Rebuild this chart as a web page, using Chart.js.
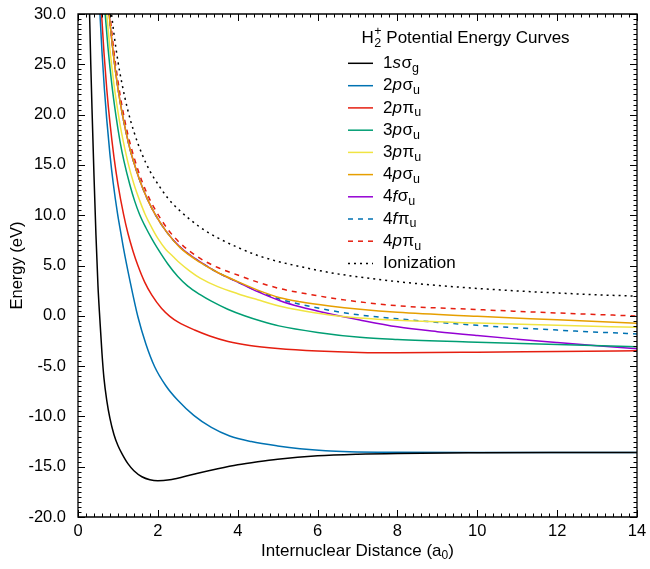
<!DOCTYPE html>
<html>
<head>
<meta charset="utf-8">
<script src="https://cdn.jsdelivr.net/npm/chart.js@4/dist/chart.umd.min.js"></script>
<style>
  body { margin: 0; background: #fff; }
  canvas { display: block; }
</style>
</head>
<body>
<canvas id="chart" width="650" height="569"></canvas>
<script>
// values: R in a0, E in eV
const r1sg = [0.27, 0.29, 0.32, 0.355, 0.40, 0.45, 0.50, 0.55, 0.60, 0.65, 0.72, 0.80, 0.90, 1.0, 1.1, 1.25, 1.4, 1.6, 1.8, 2.0, 2.3, 2.6, 3.0, 3.5, 4.0, 4.5, 5, 6, 7, 8, 10, 12, 14];
const e1sg = [33.5, 30, 25, 20, 14, 8, 3, -0.5, -3.7, -6.2, -8.4, -10.2, -11.8, -12.9, -13.7, -14.7, -15.4, -16.0, -16.3, -16.4, -16.3, -16.05, -15.65, -15.2, -14.8, -14.5, -14.25, -13.92, -13.76, -13.68, -13.62, -13.6, -13.6];

const r2ps = [0.53, 0.55, 0.60, 0.66, 0.72, 0.80, 0.88, 0.99, 1.07, 1.14, 1.3, 1.5, 1.7, 1.92, 2.2, 2.5, 2.9, 3.34, 3.8, 4.34, 5, 5.56, 6.2, 6.8, 8, 10, 14];
const e2ps = [31.7, 30, 26.3, 22.6, 19.5, 16.05, 13.25, 10.15, 8.3, 6.7, 3.5, -0.1, -2.8, -5.06, -6.95, -8.4, -9.9, -11.1, -11.95, -12.5, -12.94, -13.22, -13.42, -13.51, -13.57, -13.6, -13.6];

const r2pp = [0.57, 0.59, 0.65, 0.72, 0.80, 0.90, 1.0, 1.14, 1.25, 1.38, 1.5, 1.67, 1.85, 2.09, 2.3, 2.5, 2.92, 3.3, 3.76, 4.3, 5.0, 6.0, 7.06, 8, 10, 12, 14];
const e2pp = [31.4, 30, 26.2, 22.55, 19.2, 15.8, 13.1, 10.1, 8.2, 6.4, 5.0, 3.35, 2.05, 0.75, -0.05, -0.6, -1.41, -2.0, -2.55, -2.95, -3.25, -3.5, -3.64, -3.67, -3.62, -3.54, -3.47];

const r3ps = [0.66, 0.68, 0.75, 0.85, 0.95, 1.05, 1.15, 1.3, 1.42, 1.54, 1.7, 1.85, 2.0, 2.25, 2.5, 2.75, 3.06, 3.34, 3.75, 4.17, 4.6, 5.03, 6, 7.06, 8, 10, 12, 14];
const e3ps = [31.1, 30, 26.7, 22.9, 19.9, 17.4, 15.4, 13.0, 11.4, 10.1, 8.75, 7.65, 6.65, 5.15, 3.9, 2.95, 2.1, 1.45, 0.65, 0.0, -0.55, -1.0, -1.65, -2.14, -2.35, -2.62, -2.86, -3.07];

const r3pp = [0.70, 0.72, 0.8, 0.9, 1.0, 1.1, 1.25, 1.4, 1.55, 1.68, 1.85, 2.0, 2.2, 2.38, 2.55, 2.8, 3.06, 3.5, 4.0, 4.5, 5.06, 5.56, 6.3, 7.06, 8, 10, 12, 14];
const e3pp = [31.0, 30, 26.5, 23.0, 20.3, 18.0, 15.25, 13.1, 11.4, 10.1, 8.75, 7.7, 6.6, 5.9, 5.25, 4.45, 3.75, 2.9, 2.2, 1.6, 0.95, 0.55, 0.08, -0.22, -0.45, -0.72, -0.95, -1.14];

const r4ps = [0.75, 0.78, 0.85, 0.95, 1.05, 1.15, 1.3, 1.45, 1.6, 1.75, 1.93, 2.2, 2.55, 3.06, 3.5, 4.0, 4.5, 5.06, 5.56, 6.3, 7.06, 8, 10, 12, 14];
const e4ps = [31.3, 30, 27.25, 24.0, 21.4, 19.25, 16.6, 14.6, 12.9, 11.5, 10.1, 8.44, 6.8, 5.3, 4.3, 3.4, 2.55, 1.8, 1.4, 0.98, 0.65, 0.35, -0.05, -0.4, -0.75];

const r4fs = [0.75, 0.78, 0.85, 0.95, 1.05, 1.15, 1.3, 1.45, 1.6, 1.75, 1.93, 2.2, 2.55, 3.06, 3.5, 4.0, 4.5, 5.06, 5.56, 6.3, 7.06, 8, 9, 10, 11, 12, 13, 14];
const e4fs = [31.3, 30, 27.25, 24.0, 21.4, 19.25, 16.6, 14.6, 12.9, 11.5, 10.1, 8.44, 6.85, 5.35, 4.3, 3.35, 2.4, 1.5, 0.9, 0.2, -0.42, -1.1, -1.58, -1.97, -2.32, -2.65, -2.97, -3.27];

const r4fp = [0.75, 0.78, 0.85, 0.95, 1.05, 1.15, 1.3, 1.45, 1.6, 1.75, 1.93, 2.2, 2.55, 3.06, 3.5, 4.0, 4.5, 5.06, 5.56, 6.3, 7.06, 8, 10, 12, 14];
const e4fp = [31.3, 30, 27.25, 24.0, 21.4, 19.25, 16.6, 14.6, 12.9, 11.5, 10.1, 8.44, 6.85, 5.35, 4.3, 3.35, 2.45, 1.65, 1.15, 0.55, 0.08, -0.3, -0.95, -1.42, -1.81];

const r4pp = [0.77, 0.80, 0.9, 1.0, 1.1, 1.25, 1.4, 1.6, 1.8, 1.97, 2.25, 2.55, 3.06, 3.5, 4.0, 4.5, 5.06, 5.56, 6.3, 7.06, 8, 10, 12, 14];
const e4pp = [31.3, 30, 26.3, 23.35, 20.9, 18.0, 15.8, 13.4, 11.55, 10.3, 8.6, 7.25, 5.7, 4.8, 4.05, 3.35, 2.7, 2.3, 1.8, 1.38, 1.0, 0.62, 0.28, -0.02];

const rIon = [0.81, 0.84, 0.9, 1.0, 1.1, 1.25, 1.4, 1.6, 1.8, 2.0, 2.25, 2.55, 3.06, 3.5, 4.0, 4.5, 5.06, 5.56, 6.3, 7.06, 8, 9, 10, 11, 12, 13, 14];
const eIon = [31.1, 30, 28.05, 25.3, 23.1, 20.4, 18.3, 16.1, 14.4, 13.1, 11.7, 10.45, 8.8, 7.75, 6.8, 6.0, 5.35, 4.9, 4.3, 3.85, 3.4, 3.02, 2.72, 2.47, 2.27, 2.09, 1.95];

const xTicks = [0, 2, 4, 6, 8, 10, 12, 14];
const yTicks = [-20, -15, -10, -5, 0, 5, 10, 15, 20, 25, 30];

// legend labels: [text, style]  n = normal, i = italic, b = subscript
const legendLabels = [
  [['1','n'],['s','i'],['σ','n'],['g','b']],
  [['2','n'],['p','i'],['σ','n'],['u','b']],
  [['2','n'],['p','i'],['π','n'],['u','b']],
  [['3','n'],['p','i'],['σ','n'],['u','b']],
  [['3','n'],['p','i'],['π','n'],['u','b']],
  [['4','n'],['p','i'],['σ','n'],['u','b']],
  [['4','n'],['f','i'],['σ','n'],['u','b']],
  [['4','n'],['f','i'],['π','n'],['u','b']],
  [['4','n'],['p','i'],['π','n'],['u','b']],
  [['Ionization','n']]
];

const FONT = "'Liberation Sans', Arial, Helvetica, sans-serif";
Chart.defaults.font.family = FONT;
Chart.defaults.color = '#000';

function pts(rs, es) {
  return rs.map((r, i) => ({x: r, y: es[i]}));
}

function ds(label, rs, es, color, dash) {
  return {
    label: label,
    data: pts(rs, es),
    borderColor: color,
    backgroundColor: color,
    borderWidth: 1.5,
    borderDash: dash || [],
    pointRadius: 0,
    showLine: true,
    fill: false,
    cubicInterpolationMode: 'monotone'
  };
}

// frame with inward major/minor ticks on all four sides, plus x title
const boxTicks = {
  id: 'boxTicks',
  afterDraw(chart) {
    const ctx = chart.ctx;
    const a = chart.chartArea;
    const x = chart.scales.x, y = chart.scales.y;
    ctx.save();
    ctx.setLineDash([]);
    ctx.globalAlpha = 1;
    ctx.strokeStyle = '#000000';
    ctx.lineWidth = 1.3;
    ctx.beginPath();
    ctx.rect(a.left, a.top, a.right - a.left, a.bottom - a.top);
    ctx.stroke();
    ctx.lineWidth = 1;
    ctx.beginPath();
    for (let i = 0; i <= 70; i++) {
      const px = Math.round(x.getPixelForValue(i * 0.2)) + 0.5;
      const len = i % 10 == 0 ? 7 : 3.5;
      ctx.moveTo(px, a.bottom); ctx.lineTo(px, a.bottom - len);
      ctx.moveTo(px, a.top); ctx.lineTo(px, a.top + len);
    }
    for (let i = 0; i <= 100; i++) {
      const py = Math.round(y.getPixelForValue(-20 + i * 0.5)) + 0.5;
      const len = i % 10 == 0 ? 7 : 3.5;
      ctx.moveTo(a.left, py); ctx.lineTo(a.left + len, py);
      ctx.moveTo(a.right, py); ctx.lineTo(a.right - len, py);
    }
    ctx.stroke();

    const big = '17px ' + FONT, small = '12px ' + FONT;
    ctx.fillStyle = '#000';
    ctx.textBaseline = 'middle';
    ctx.textAlign = 'left';
    ctx.font = big;
    const t1 = 'Internuclear Distance (a', t3 = ')';
    const w1 = ctx.measureText(t1).width, w3 = ctx.measureText(t3).width;
    ctx.font = small;
    const w2 = ctx.measureText('0').width;
    let tx = (a.left + a.right) / 2 - (w1 + w2 + w3) / 2;
    const ty = 551;
    ctx.font = big; ctx.fillText(t1, tx, ty); tx += w1;
    ctx.font = small; ctx.fillText('0', tx, ty + 5); tx += w2;
    ctx.font = big; ctx.fillText(t3, tx, ty);
    ctx.restore();
  }
};

const richLegend = {
  id: 'richLegend',
  afterDraw(chart) {
    const ctx = chart.ctx;
    const fs = 17;
    const normal = fs + 'px ' + FONT, italic = 'italic ' + fs + 'px ' + FONT, sub = '12.5px ' + FONT;
    ctx.save();
    ctx.fillStyle = '#000';
    ctx.textBaseline = 'middle';
    ctx.textAlign = 'left';

    // title: H2+ Potential Energy Curves
    let tx = 361.5;
    const ty = 38;
    ctx.font = normal;
    ctx.fillText('H', tx, ty);
    tx += ctx.measureText('H').width + 0.5;
    ctx.font = sub;
    ctx.fillText('+', tx, ty - 6);
    ctx.fillText('2', tx, ty + 6);
    tx += ctx.measureText('+').width;
    ctx.font = normal;
    ctx.fillText(' Potential Energy Curves', tx, ty);

    const rows = [63.3, 85.7, 107.9, 130.2, 152.4, 174.6, 196.8, 219, 241.2, 263.4];
    chart.data.datasets.forEach((d, i) => {
      const yy = rows[i];
      ctx.save();
      ctx.strokeStyle = d.borderColor;
      ctx.lineWidth = 1.5;
      ctx.setLineDash(d.borderDash);
      ctx.beginPath();
      ctx.moveTo(348, yy);
      ctx.lineTo(373, yy);
      ctx.stroke();
      ctx.restore();
      let x = 383;
      legendLabels[i].forEach(([t, s]) => {
        ctx.font = s == 'i' ? italic : (s == 'b' ? sub : normal);
        ctx.fillText(t, x, s == 'b' ? yy + 5 : yy);
        x += ctx.measureText(t).width + (s == 'i' ? 0.5 : 0);
      });
    });
    ctx.restore();
  }
};

new Chart(document.getElementById('chart'), {
  type: 'scatter',
  data: {
    datasets: [
      ds('1sσg', r1sg, e1sg, '#000000'),
      ds('2pσu', r2ps, e2ps, '#0072B2'),
      ds('2pπu', r2pp, e2pp, '#E51E10'),
      ds('3pσu', r3ps, e3ps, '#009E73'),
      ds('3pπu', r3pp, e3pp, '#F0E442'),
      ds('4pσu', r4ps, e4ps, '#E69F00'),
      ds('4fσu', r4fs, e4fs, '#9400D3'),
      ds('4fπu', r4fp, e4fp, '#0072B2', [5, 5]),
      ds('4pπu', r4pp, e4pp, '#E51E10', [5, 5]),
      ds('Ionization', rIon, eIon, '#000000', [2, 4])
    ]
  },
  options: {
    responsive: false,
    animation: false,
    devicePixelRatio: 1,
    layout: { padding: { left: 0, right: 13, top: 14, bottom: 0 } },
    plugins: { legend: { display: false }, tooltip: { enabled: false } },
    scales: {
      x: {
        type: 'linear',
        min: 0, max: 14,
        afterBuildTicks: s => { s.ticks = xTicks.map(v => ({value: v})); },
        ticks: { font: { size: 16.5 }, color: '#000', padding: 4.5 },
        grid: { display: false, drawTicks: false },
        border: { display: false },
        afterFit: s => { s.height = 52; s.paddingLeft = 0; s.paddingRight = 0; }
      },
      y: {
        min: -20, max: 30,
        afterBuildTicks: s => { s.ticks = yTicks.map(v => ({value: v})); },
        ticks: { font: { size: 16.5 }, color: '#000', padding: 12, callback: v => v.toFixed(1) },
        grid: { display: false, drawTicks: false },
        border: { display: false },
        title: { display: true, text: 'Energy (eV)', font: { size: 16.5 }, color: '#000', padding: { top: 8, bottom: 0 } },
        afterFit: s => { s.width = 78; s.paddingTop = 0; s.paddingBottom = 0; }
      }
    }
  },
  plugins: [boxTicks, richLegend]
});
</script>
</body>
</html>
